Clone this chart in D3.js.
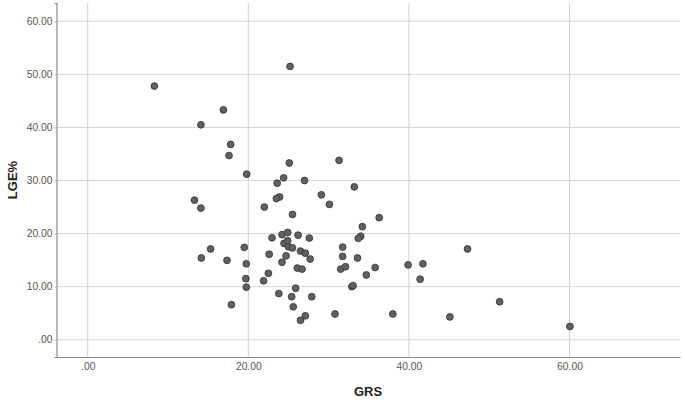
<!DOCTYPE html>
<html>
<head>
<meta charset="utf-8">
<script src="https://cdn.jsdelivr.net/npm/d3@7"></script>
<style>
  html, body { margin: 0; padding: 0; background: #fff; }
  svg { display: block; }
</style>
</head>
<body>
<svg id="chart" width="685" height="404"></svg>
<script>
const grs = [8.3,14.1,16.9,17.8,17.6,25.2,25.1,31.3,19.8,24.4,23.6,27.0,33.2,29.1,23.9,23.5,13.3,14.1,15.3,14.15,17.35,17.9,22.0,30.1,25.5,36.3,34.2,34.0,33.7,22.95,24.2,24.9,26.2,27.6,24.45,24.9,25.0,25.5,19.5,22.6,26.5,27.1,24.7,27.7,24.2,19.75,26.1,26.7,22.5,19.7,21.9,19.75,25.9,23.8,25.4,27.9,25.6,27.1,26.5,30.8,31.75,31.75,31.5,32.1,33.6,34.7,35.8,32.9,33.05,38.0,39.9,41.75,41.4,45.1,47.3,51.3,60.05];
const lge = [47.8,40.5,43.3,36.8,34.7,51.5,33.3,33.8,31.2,30.5,29.5,30.0,28.8,27.3,26.9,26.6,26.3,24.8,17.1,15.4,14.95,6.6,25.0,25.5,23.6,23.0,21.3,19.5,19.1,19.2,19.8,20.2,19.7,19.15,18.15,18.65,17.5,17.3,17.4,16.1,16.7,16.3,15.8,15.2,14.6,14.3,13.5,13.3,12.5,11.5,11.1,9.9,9.7,8.7,8.1,8.1,6.2,4.5,3.65,4.85,17.45,15.7,13.3,13.75,15.4,12.2,13.6,10.0,10.2,4.85,14.1,14.3,11.4,4.3,17.1,7.15,2.5];
const xTicks = [0, 20, 40, 60];
const yTicks = [0, 10, 20, 30, 40, 50, 60];
const xTitle = "GRS";
const yTitle = "LGE%";

const svg = d3.select("#chart");
const x = d3.scaleLinear().domain([-3.885, 73.76]).range([56.5, 680]);
const y = d3.scaleLinear().domain([-3.26, 63.45]).range([357, 3]);
const fmt = d => d === 0 ? ".00" : d3.format(".2f")(d);

// gridlines
svg.append("g").selectAll("line.h").data(yTicks).join("line")
  .attr("x1", x.range()[0]).attr("x2", x.range()[1])
  .attr("y1", d => y(d)).attr("y2", d => y(d))
  .attr("stroke", "#d6d6d6").attr("stroke-width", 1);
svg.append("g").selectAll("line.v").data(xTicks).join("line")
  .attr("x1", d => x(d)).attr("x2", d => x(d))
  .attr("y1", y.range()[0]).attr("y2", y.range()[1])
  .attr("stroke", "#d0d0d0").attr("stroke-width", 1);

// axes
const yAxis = svg.append("g").attr("transform", `translate(${x.range()[0]},0)`)
  .call(d3.axisLeft(y).tickValues(yTicks).tickFormat(fmt).tickSize(2).tickPadding(2));
const xAxis = svg.append("g").attr("transform", `translate(0,${y.range()[0]})`)
  .call(d3.axisBottom(x).tickValues(xTicks).tickFormat(fmt).tickSize(0).tickPadding(6));
[yAxis, xAxis].forEach(g => {
  g.select(".domain").attr("stroke", "#8c8c8c").attr("stroke-width", 1.2);
  g.selectAll(".tick line").attr("stroke", "#bbb");
  g.selectAll(".tick text").attr("fill", "#555").attr("font-family", "'Liberation Sans', Arial, sans-serif").attr("font-size", 10.3);
});

// titles
svg.append("text").attr("x", 368).attr("y", 396).attr("text-anchor", "middle")
  .attr("font-family", "'Liberation Sans', Arial, sans-serif").attr("font-weight", "bold")
  .attr("font-size", 13).attr("fill", "#222").text(xTitle);
svg.append("text").attr("transform", "translate(17,180) rotate(-90)").attr("text-anchor", "middle")
  .attr("font-family", "'Liberation Sans', Arial, sans-serif").attr("font-weight", "bold")
  .attr("font-size", 13).attr("fill", "#222").text(yTitle);

// points
svg.append("g").selectAll("circle").data(grs.map((g, i) => [g, lge[i]])).join("circle")
  .attr("cx", d => x(d[0])).attr("cy", d => y(d[1])).attr("r", 3.4)
  .attr("fill", "#616161").attr("stroke", "#3a3a3a").attr("stroke-width", 0.9);
</script>
</body>
</html>
